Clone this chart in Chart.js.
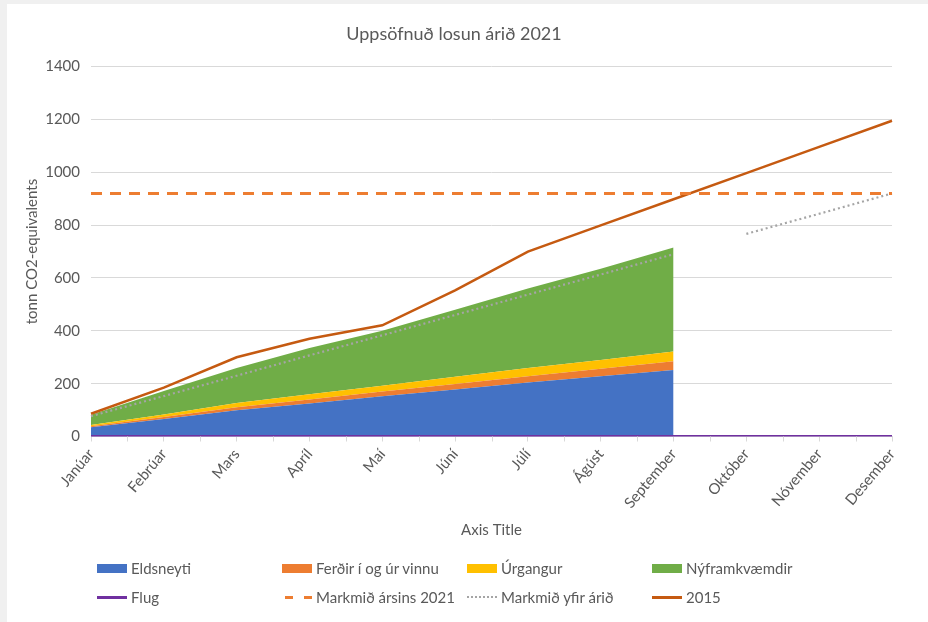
<!DOCTYPE html>
<html lang="is">
<head>
<meta charset="utf-8">
<title>Uppsöfnuð losun árið 2021</title>
<script src="https://cdn.jsdelivr.net/npm/chart.js@4.4.1/dist/chart.umd.min.js"></script>
<style>
  html, body { margin: 0; padding: 0; background: #f0f0f0; }
  #wrap { position: absolute; left: 7px; top: 4px; width: 921px; height: 618px; background: #fff; }
  #emissionChart { position: absolute; left: 0; top: 0; }
  #legend { position: absolute; left: 90px; top: 555px; width: 760px; display: grid;
            grid-template-columns: repeat(4, 185px); row-gap: 11px;
            font-family: Lato, "Open Sans", sans-serif; font-size: 15px; color: #595959; }
  .item { display: flex; align-items: center; white-space: nowrap; height: 18px; }
  .sw { width: 30px; margin-right: 4px; flex: none; }
</style>
</head>
<body>
<div id="wrap">
  <canvas id="emissionChart" width="921" height="618"></canvas>
  <div id="legend"></div>
</div>
<script>
const months = ["Janúar", "Febrúar", "Mars", "Apríl", "Maí", "Júní", "Júlí", "Ágúst", "September", "Október", "Nóvember", "Desember"];

// cumulative emissions (tonn CO2-eq), reported Jan-Sep
const eldsneyti = [35, 66, 99, 125, 152, 178, 204, 228, 252, null, null, null];
const ferdir = [4, 8, 12, 15, 18, 21, 24, 28, 33, null, null, null];
const urgangur = [5, 9, 16, 20, 22, 27, 31, 34, 37, null, null, null];
const nyframkvaemdir = [38, 89, 132, 175, 208, 254, 301, 345, 393, null, null, null];
const flug = [2, 2, 2, 2, 2, 2, 2, 2, 2, 2, 2, 2];

const markmidArsins = [920, 920, 920, 920, 920, 920, 920, 920, 920, 920, 920, 920];
const markmidYfirArid = [77, 153, 230, 307, 383, 460, 537, 613, 690, 767, 843, 920];
const ar2015 = [86, 185, 300, 370, 421, 553, 700, 799, 898, 997, 1096, 1195];

const yTicks = [0, 200, 400, 600, 800, 1000, 1200, 1400];

// the target line is not drawn between September and October
const targetGap = [8];

const font = "Lato, 'Open Sans', sans-serif";
const grey = "#595959";

function area(label, data, color, fill) {
  return {
    label: label, data: data, stack: "losun", fill: fill, order: 2,
    backgroundColor: color, borderColor: color, borderWidth: 0,
    pointRadius: 0, tension: 0, spanGaps: false
  };
}
function line(label, data, color, width, dash, stack) {
  return {
    label: label, data: data, stack: stack, fill: false, order: 1,
    borderColor: color, backgroundColor: color, borderWidth: width, borderDash: dash,
    pointRadius: 0, tension: 0, spanGaps: false
  };
}

// half-step tick marks under the category axis, like the original
const halfTicks = {
  id: "halfTicks",
  afterDraw(chart) {
    const x = chart.scales.x, c = chart.ctx, y0 = chart.chartArea.bottom;
    c.save();
    c.strokeStyle = "#d9d9d9";
    c.lineWidth = 1;
    for (let i = 0; i < months.length - 1; i++) {
      const px = Math.round((x.getPixelForValue(i) + x.getPixelForValue(i + 1)) / 2) + 0.5;
      c.beginPath();
      c.moveTo(px, y0);
      c.lineTo(px, y0 + 5);
      c.stroke();
    }
    c.restore();
  }
};

const ctx = document.getElementById("emissionChart").getContext("2d");

const chart = new Chart(ctx, {
  type: "line",
  data: {
    labels: months,
    datasets: [
      area("Eldsneyti", eldsneyti, "#4472c4", "origin"),
      area("Ferðir í og úr vinnu", ferdir, "#ed7d31", "-1"),
      area("Úrgangur", urgangur, "#ffc000", "-1"),
      area("Nýframkvæmdir", nyframkvaemdir, "#70ad47", "-1"),
      line("Flug", flug, "#7030a0", 2, [], "flug"),
      line("Markmið ársins 2021", markmidArsins, "#ed7d31", 3, [11, 8], "m1"),
      {
        ...line("Markmið yfir árið", markmidYfirArid, "#a5a5a5", 2.2, [2, 3], "m2"),
        segment: {
          borderColor: c => targetGap.includes(c.p0DataIndex) ? "rgba(0,0,0,0)" : undefined
        }
      },
      line("2015", ar2015, "#c55a11", 2.5, [], "y2015")
    ]
  },
  options: {
    responsive: false,
    animation: false,
    layout: { padding: { left: 9, right: 36, top: 0, bottom: 79 } },
    scales: {
      x: {
        offset: false,
        afterFit: s => { s.paddingLeft = 0; s.paddingRight = 0; },
        grid: { drawOnChartArea: false, drawTicks: true, tickLength: 5, color: "#d9d9d9" },
        border: { color: "#d9d9d9" },
        ticks: { color: grey, font: { family: font, size: 15 }, maxRotation: 50, minRotation: 50, padding: 4 },
        title: { display: true, text: "Axis Title", color: grey, font: { family: font, size: 15 }, padding: { top: 5 } }
      },
      y: {
        stacked: true,
        min: 0, max: 1400,
        afterBuildTicks: axis => { axis.ticks = yTicks.map(v => ({ value: v })); },
        afterFit: s => { s.width = 75; },
        grid: { color: "#d9d9d9", drawTicks: false },
        border: { display: false },
        ticks: { color: grey, font: { family: font, size: 15 }, padding: 11, callback: v => String(v) },
        title: { display: true, text: "tonn CO2-equivalents", color: grey, font: { family: font, size: 15 }, padding: { top: 7, bottom: 6 } }
      }
    },
    plugins: {
      title: {
        display: true, text: "Uppsöfnuð losun árið 2021", color: grey,
        font: { family: font, size: 18, weight: "normal" }, padding: { top: 19, bottom: 22 }
      },
      legend: { display: false },
      tooltip: { enabled: false }
    }
  },
  plugins: [halfTicks]
});

// legend in four columns, built from the datasets
const legendEl = document.getElementById("legend");
chart.data.datasets.forEach(ds => {
  const item = document.createElement("div");
  item.className = "item";
  const sw = document.createElement("span");
  sw.className = "sw";
  if (ds.fill) {
    sw.style.height = "9px";
    sw.style.background = ds.backgroundColor;
  } else if (ds.borderDash.length && ds.borderDash[0] > 5) {
    sw.style.height = "3px";
    sw.style.background = `repeating-linear-gradient(90deg, transparent 0 3px, ${ds.borderColor} 3px 11px, transparent 11px 19px)`;
  } else if (ds.borderDash.length) {
    sw.style.height = "2px";
    sw.style.background = `repeating-linear-gradient(90deg, ${ds.borderColor} 0 2px, transparent 2px 4px)`;
  } else {
    sw.style.height = "3px";
    sw.style.background = ds.borderColor;
  }
  item.appendChild(sw);
  item.appendChild(document.createTextNode(ds.label));
  legendEl.appendChild(item);
});
</script>
</body>
</html>
